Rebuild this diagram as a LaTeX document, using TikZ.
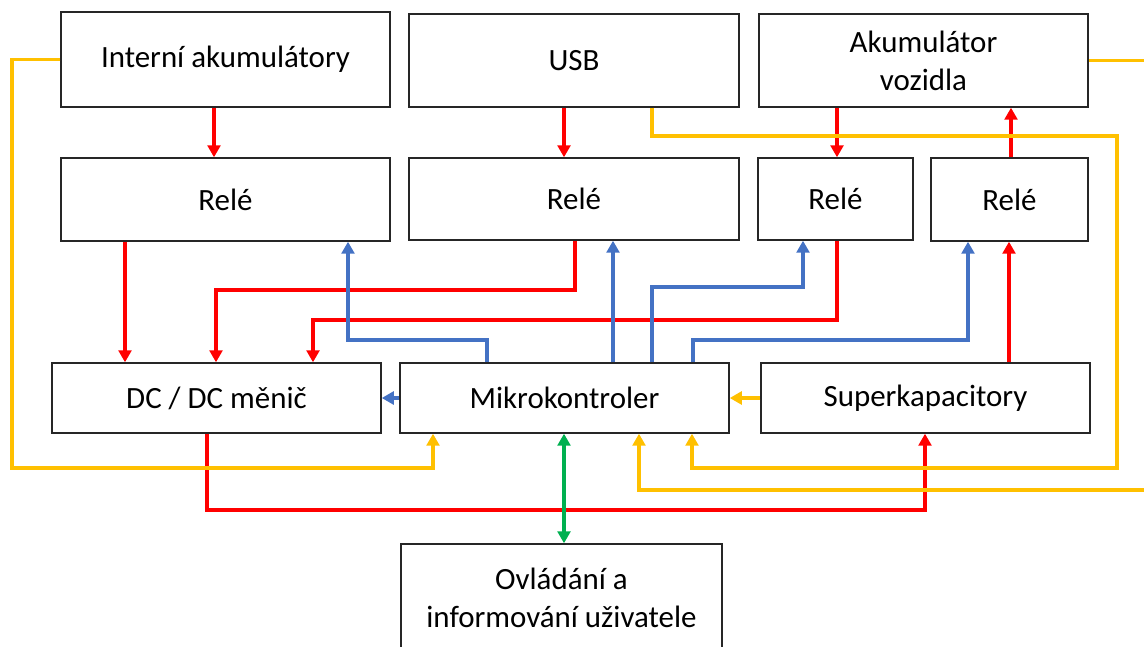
\documentclass[tikz,border=0pt]{standalone}
\usepackage{fontspec}
\setmainfont{Carlito}
\usetikzlibrary{arrows.meta}

\begin{document}
\begin{tikzpicture}[
        x=0.025cm, y=-0.025cm,
        box/.style={rectangle, draw=black!85, line width=1pt, fill=white, align=center, inner sep=0pt, font=\fontsize{22}{27}\selectfont},
        wire/.style={line width=2.2pt, -{Triangle[length=0.3cm, width=0.32cm]}},
        pw/.style={wire, color=pwred},
        ctl/.style={wire, color=ctlblue},
        sig/.style={wire, color=sigyellow},
        ui/.style={wire, color=uigreen, {Triangle[length=0.3cm, width=0.32cm]}-{Triangle[length=0.3cm, width=0.32cm]}}
    ]
        \definecolor{pwred}{HTML}{FF0000}
        \definecolor{ctlblue}{HTML}{4472C4}
        \definecolor{sigyellow}{HTML}{FFC000}
        \definecolor{uigreen}{HTML}{00B050}
        \path[use as bounding box, clip] (0,0) rectangle (1144,646);

        % Sources
        \node[box, minimum width=8.225cm, minimum height=2.375cm] (intak) at (225.5,59.5) {Interní akumulátory};
        \node[box, minimum width=8.25cm, minimum height=2.325cm] (usb) at (574,60.5) {USB};
        \node[box, minimum width=8.225cm, minimum height=2.325cm] (akuv) at (923.5,60.5) {Akumulátor\\vozidla};

        % Relays
        \node[box, minimum width=8.225cm, minimum height=2.075cm] (rele1) at (225.5,199.5) {Relé};
        \node[box, minimum width=8.25cm, minimum height=2.05cm] (rele2) at (574,199) {Relé};
        \node[box, minimum width=3.875cm, minimum height=2.05cm] (rele3) at (835.5,199) {Relé};
        \node[box, minimum width=3.925cm, minimum height=2.075cm] (rele4) at (1009.5,199.5) {Relé};

        % Lower row
        \node[box, minimum width=8.225cm, minimum height=1.75cm] (dcdc) at (216.5,398) {DC / DC měnič};
        \node[box, minimum width=8.225cm, minimum height=1.75cm] (mcu) at (564.5,398) {Mikrokontroler};
        \node[box, minimum width=8.225cm, minimum height=1.75cm] (superkap) at (925.5,398) {Superkapacitory};
        \node[box, minimum width=8.025cm, minimum height=2.7cm] (ovl) at (561.5,598) {Ovládání a\\informování uživatele};

        % Power (red)
        \draw[pw] (214,0 |- intak.south) -- (214,0 |- rele1.north);
        \draw[pw] (564,0 |- usb.south) -- (564,0 |- rele2.north);
        \draw[pw] (837,0 |- akuv.south) -- (837,0 |- rele3.north);
        \draw[pw] (1011,0 |- rele4.north) -- (1011,0 |- akuv.south);
        \draw[pw] (125,0 |- rele1.south) -- (125,0 |- dcdc.north);
        \draw[pw] (575,0 |- rele2.south) |- (216,290) -- (216,0 |- dcdc.north);
        \draw[pw] (837,0 |- rele3.south) |- (313,320) -- (313,0 |- dcdc.north);
        \draw[pw] (1009,0 |- superkap.north) -- (1009,0 |- rele4.south);
        \draw[pw] (207,0 |- dcdc.south) |- (925,510) -- (925,0 |- superkap.south);

        % Control (blue)
        \draw[ctl] (487,0 |- mcu.north) |- (348,340) -- (348,0 |- rele1.south);
        \draw[ctl] (613,0 |- mcu.north) -- (613,0 |- rele2.south);
        \draw[ctl] (652,0 |- mcu.north) |- (803,287) -- (803,0 |- rele3.south);
        \draw[ctl] (693,0 |- mcu.north) |- (968,340) -- (968,0 |- rele4.south);
        \draw[ctl] (mcu.west) -- (dcdc.east);

        % Measurement (yellow)
        \draw[sig] (intak.west) -| (12,468) -| (433,0 |- mcu.south);
        \draw[sig] (652,0 |- usb.south) |- (1117,136) |- (692,468) -- (692,0 |- mcu.south);
        \draw[sig] (akuv.east) -| (1165,490) -| (639,0 |- mcu.south);
        \draw[sig] (superkap.west) -- (mcu.east);

        % User interface (green)
        \draw[ui] (564,0 |- mcu.south) -- (564,0 |- ovl.north);

    \end{tikzpicture}
\end{document}
